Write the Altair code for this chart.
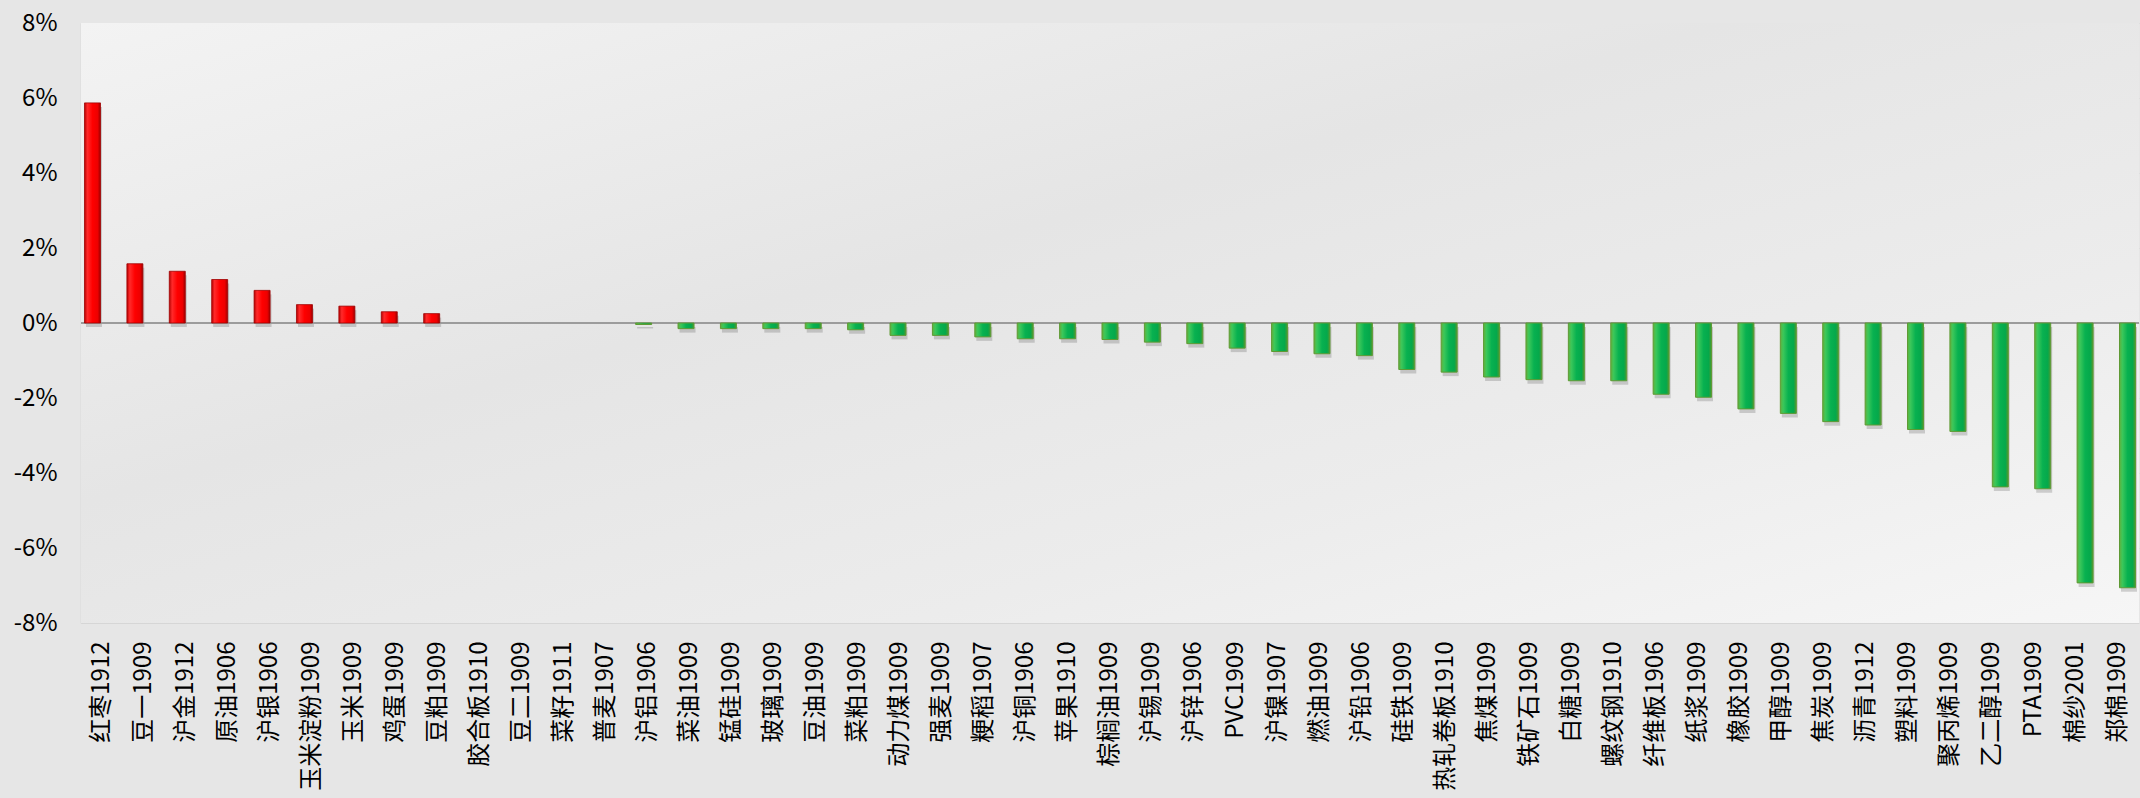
import altair as alt
import pandas as pd

names = [
    "红枣1912", "豆一1909", "沪金1912", "原油1906", "沪银1906", "玉米淀粉1909", "玉米1909",
    "鸡蛋1909", "豆粕1909", "胶合板1910", "豆二1909", "菜籽1911", "普麦1907", "沪铝1906",
    "菜油1909", "锰硅1909", "玻璃1909", "豆油1909", "菜粕1909", "动力煤1909", "强麦1909",
    "粳稻1907", "沪铜1906", "苹果1910", "棕榈油1909", "沪锡1909", "沪锌1906", "PVC1909",
    "沪镍1907", "燃油1909", "沪铅1906", "硅铁1909", "热轧卷板1910", "焦煤1909", "铁矿石1909",
    "白糖1909", "螺纹钢1910", "纤维板1906", "纸浆1909", "橡胶1909", "甲醇1909", "焦炭1909",
    "沥青1912", "塑料1909", "聚丙烯1909", "乙二醇1909", "PTA1909", "棉纱2001", "郑棉1909",
]
values = [
    5.87, 1.58, 1.38, 1.16, 0.87, 0.49, 0.45,
    0.30, 0.25, 0.0, 0.0, 0.0, 0.0, -0.04,
    -0.15, -0.15, -0.15, -0.15, -0.18, -0.33, -0.33,
    -0.37, -0.42, -0.42, -0.44, -0.51, -0.55, -0.67,
    -0.76, -0.82, -0.87, -1.24, -1.31, -1.44, -1.51,
    -1.54, -1.54, -1.90, -1.98, -2.29, -2.41, -2.63,
    -2.72, -2.84, -2.89, -4.37, -4.42, -6.93, -7.06,
]
y_ticks = [-8, -6, -4, -2, 0, 2, 4, 6, 8]

df = pd.DataFrame({"name": names, "v": values})
zero_df = pd.DataFrame({"z": [0]})

W, H = 2058, 600
FONT = "Noto Sans CJK SC"

bar_scale = alt.Scale(domain=names, paddingInner=0.6226, paddingOuter=0.0825)
lab_scale = alt.Scale(domain=names, paddingInner=0, paddingOuter=0.0121)
y_scale = alt.Scale(domain=[-8, 8], nice=False)

y_axis = alt.Axis(
    values=y_ticks, labelExpr="datum.value + '%'", grid=True, gridColor="#d6d6d6",
    gridWidth=1, domain=True, domainColor="#cfcfcf", domainWidth=1.5, ticks=False,
    labelFontSize=24, labelPadding=24, labelFont=FONT, labelColor="#000000", title="",
)
y_enc = alt.Y("v:Q", scale=y_scale, axis=y_axis)

red_grad = alt.Gradient(
    gradient="linear", x1=0, x2=1, y1=0, y2=0,
    stops=[
        alt.GradientStop(color="#b80000", offset=0),
        alt.GradientStop(color="#ff2a2a", offset=0.18),
        alt.GradientStop(color="#ff0000", offset=0.5),
        alt.GradientStop(color="#ee0000", offset=0.82),
        alt.GradientStop(color="#a00000", offset=1),
    ],
)
green_grad = alt.Gradient(
    gradient="linear", x1=0, x2=1, y1=0, y2=0,
    stops=[
        alt.GradientStop(color="#62b13c", offset=0),
        alt.GradientStop(color="#3cc75a", offset=0.18),
        alt.GradientStop(color="#08b150", offset=0.5),
        alt.GradientStop(color="#05a84b", offset=0.82),
        alt.GradientStop(color="#4f9a30", offset=1),
    ],
)
bg_grad = alt.Gradient(
    gradient="linear", x1=0, x2=1, y1=0, y2=1,
    stops=[
        alt.GradientStop(color="#f3f3f3", offset=0),
        alt.GradientStop(color="#e5e5e5", offset=0.4),
        alt.GradientStop(color="#ececec", offset=0.7),
        alt.GradientStop(color="#f6f6f6", offset=1),
    ],
)

backdrop = alt.Chart(zero_df).mark_rect(color=bg_grad).encode(
    x=alt.value(0), x2=alt.value(W), y=alt.value(0), y2=alt.value(H)
)

carrier = alt.Chart(df).mark_tick(opacity=0).encode(
    x=alt.X(
        "name:N", scale=lab_scale,
        axis=alt.Axis(
            labelAngle=-90, labelFontSize=24, labelFont=FONT, labelColor="#000000",
            labelPadding=18, ticks=False, domain=False, grid=False, labelOverlap=False,
            labelBound=False, labelLimit=400, title="",
        ),
    ),
    y=y_enc,
)

bx = alt.X("name:N", scale=bar_scale, axis=None)

shadow = alt.Chart(df).transform_filter("datum.v != 0").mark_bar(
    color="#000000", opacity=0.16, xOffset=1.5, yOffset=4
).encode(x=bx, y=y_enc)

zero_rule = alt.Chart(zero_df).mark_rule(color="#9c9c9c", strokeWidth=2).encode(
    y=alt.Y("z:Q", scale=y_scale, axis=y_axis)
)

red = alt.Chart(df).transform_filter("datum.v > 0").mark_bar(
    color=red_grad, stroke="#a00000", strokeWidth=0.8
).encode(x=bx, y=y_enc)

green = alt.Chart(df).transform_filter("datum.v < 0").mark_bar(
    color=green_grad, stroke="#5e9a34", strokeWidth=1
).encode(x=bx, y=y_enc)

chart = (
    alt.layer(backdrop, carrier, shadow, zero_rule, red, green)
    .resolve_scale(x="independent")
    .properties(
        width=W, height=H,
        autosize=alt.AutoSizeParams(type="none"),
        padding={"left": 81, "top": 23, "right": 1, "bottom": 175},
        background="#e6e6e6",
    )
    .configure_view(stroke="transparent")
)

chart.save("out.html", embed_options={"renderer": "svg", "actions": False})
